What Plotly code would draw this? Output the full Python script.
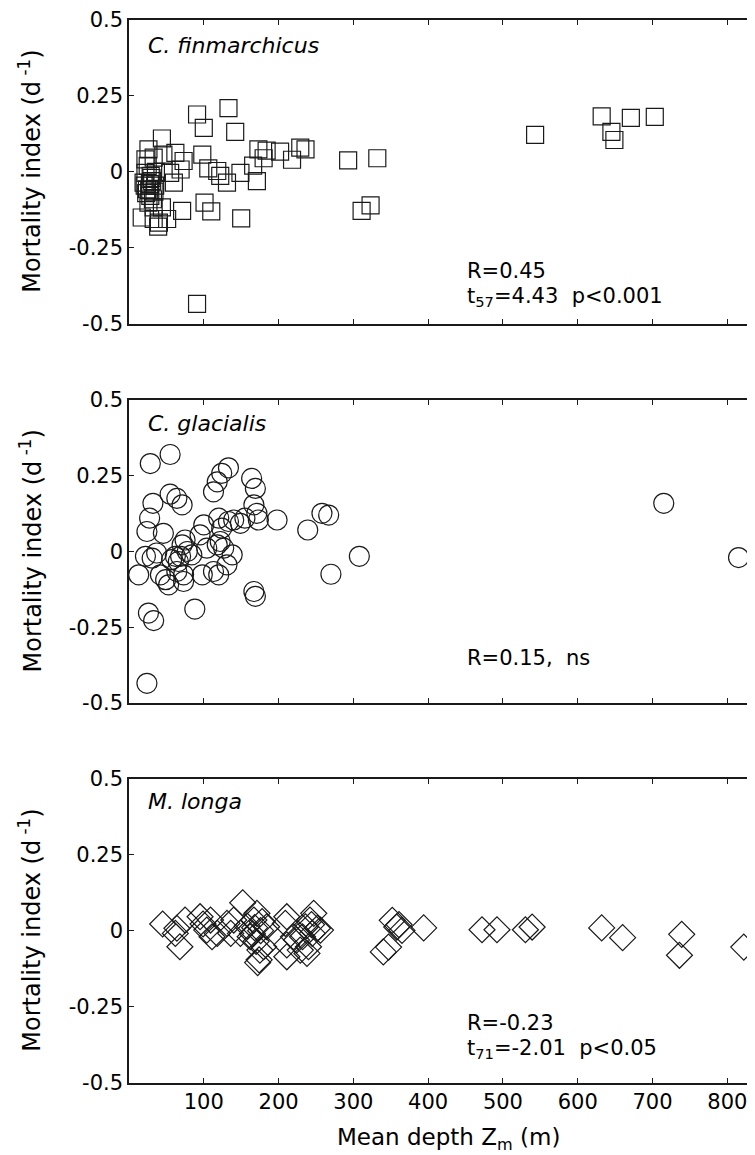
import plotly.graph_objects as go

# ---------------- data ----------------
cf_depth = [91, 100, 133, 142, 44, 26, 33, 22, 46, 62, 73, 69, 98, 106, 118, 122, 131, 149,
            166, 171, 173, 184, 180, 202, 218, 229, 236, 55, 60, 19.5, 24, 28.5, 22, 29, 35,
            26, 33, 44, 17, 33, 40, 51, 39, 71, 101, 110, 150, 91, 293, 332, 311, 323, 543,
            632, 645, 649, 671, 703, 30, 27, 32, 25, 36, 21, 31, 23, 34, 28]
cf_mort = [0.189, 0.145, 0.21, 0.132, 0.11, 0.074, 0.047, 0.041, 0.057, 0.063, 0.036, 0.008,
           0.057, 0.012, 0.003, -0.013, -0.035, -0.003, 0.021, -0.03, 0.074, 0.07, 0.045,
           0.067, 0.04, 0.08, 0.074, -0.003, -0.035, -0.035, -0.057, -0.079, -0.003, -0.013,
           -0.045, -0.101, -0.117, -0.117, -0.15, -0.155, -0.167, -0.155, -0.18, -0.128,
           -0.101, -0.13, -0.153, -0.434, 0.038, 0.045, -0.128, -0.11, 0.122, 0.183, 0.132,
           0.105, 0.178, 0.181, -0.02, -0.06, -0.09, 0.02, 0.0, -0.045, -0.03, -0.07,
           -0.065, -0.04]

cg_depth = [28.5, 55, 32, 27.6, 24, 55, 64, 71, 46, 22, 31, 37, 13, 42, 49, 53, 57, 62, 66,
            69, 64, 73, 71, 75, 84, 78, 73, 26, 33, 88, 24, 95, 100, 104, 98, 113, 118, 124,
            133, 120, 124, 122, 126.6, 118, 113, 120, 131, 138, 133, 140, 149, 155, 164, 169,
            167, 171, 173, 167, 169, 198, 239, 258, 267, 270, 308, 715, 815]
cg_mort = [0.29, 0.32, 0.159, 0.11, 0.066, 0.189, 0.175, 0.154, 0.06, -0.016, -0.022, -0.005,
           -0.077, -0.077, -0.093, -0.11, -0.027, -0.016, -0.033, -0.016, -0.066, -0.077,
           0.022, 0.038, -0.011, 0.0, -0.099, -0.203, -0.228, -0.19, -0.435, 0.055, 0.088,
           0.011, -0.077, 0.197, 0.23, 0.258, 0.276, 0.11, 0.077, 0.033, 0.011, 0.022, -0.066,
           -0.077, -0.044, -0.011, 0.099, 0.104, 0.093, 0.11, 0.241, 0.208, 0.154, 0.126,
           0.104, -0.132, -0.148, 0.104, 0.071, 0.126, 0.12, -0.075, -0.016, 0.159, -0.02]

ml_depth = [45, 64, 68, 75, 62, 95, 99, 109, 111, 104, 118, 131, 136, 140, 152, 149, 158, 167,
            171, 162, 165, 170, 176, 175, 174, 172, 180, 184, 211, 209, 211, 211, 220, 224,
            229, 236, 242, 247, 252, 256, 240, 245, 232, 238, 168, 178, 244,
            352, 358, 361, 365, 394, 340, 347, 472, 492, 530, 539, 632, 660, 739, 736, 822]
ml_mort = [0.022, 0.008, -0.053, 0.035, -0.009, 0.046, 0.022, 0.035, -0.02, 0.002, -0.009,
           0.024, -0.009, 0.035, 0.092, -0.009, 0.015, 0.035, 0.057, -0.02, -0.01, -0.035,
           0.0, -0.064, -0.096, -0.105, -0.053, 0.013, 0.046, 0.024, -0.047, -0.086, -0.02,
           -0.031, -0.064, 0.013, 0.035, 0.057, 0.008, 0.002, -0.053, -0.009, -0.02, -0.075,
           0.01, 0.03, 0.02,
           0.034, 0.012, 0.02, 0.001, 0.009, -0.07, -0.054, 0.003, 0.003, 0.003, 0.012, 0.009,
           -0.023, -0.012, -0.081, -0.054]

species = ["C. finmarchicus", "C. glacialis", "M. longa"]
y_tickvals = [-0.5, -0.25, 0, 0.25, 0.5]
y_ticktext = ["-0.5", "-0.25", "0", "0.25", "0.5"]
x_tickvals = [100, 200, 300, 400, 500, 600, 700, 800]
x_ticktext = ["100", "200", "300", "400", "500", "600", "700", "800"]

# ---------------- layout geometry ----------------
# The page body has an 8 px default margin; the figure is shrunk by that much so that
# its drawing lands where the reference has it inside the 755 x 1155 window.
OFF = 8
W, H = 755 - OFF, 1155 - OFF
ML, MR, MT, MB = 129 - OFF, 0, 9, 72
PH = H - MT - MB
PW = W - ML - MR
FONT = "DejaVu Sans, Verdana, sans-serif"
FS = 21
INK = "#1a1a1a"

# panel extents in window pixels (top, bottom)
panel_px = [(16.7, 321.7), (398, 702), (778, 1082.5)]


def yp(py):
    return (H - MB - (py - OFF)) / PH


def xp(px):
    return (px - OFF - ML) / PW


fig = go.Figure()

series = [(cf_depth, cf_mort, "square-open", 17),
          (cg_depth, cg_mort, "circle-open", 20),
          (ml_depth, ml_mort, "diamond-open", 20)]

for i, (xs, ys, sym, sz) in enumerate(series):
    n = "" if i == 0 else str(i + 1)
    fig.add_trace(go.Scatter(
        x=xs, y=ys, mode="markers", xaxis="x" + n, yaxis="y" + n,
        marker=dict(symbol=sym, size=sz, color=INK, line=dict(width=1.2, color=INK)),
        showlegend=False, hoverinfo="skip"))

    top, bot = panel_px[i]
    dom = [max(0, yp(bot)), min(1, yp(top))]
    xa = dict(domain=[0, 1], range=[0, 837], tickvals=x_tickvals, ticktext=x_ticktext,
              showticklabels=(i == 2), ticks="inside", ticklen=5, tickwidth=1,
              tickcolor=INK, showline=True, linecolor=INK, linewidth=1.5,
              mirror="ticks", showgrid=False, zeroline=False, anchor="y" + n,
              tickfont=dict(family=FONT, size=FS, color="black"), fixedrange=True)
    ya = dict(domain=dom, range=[-0.5, 0.5], tickvals=y_tickvals, ticktext=y_ticktext,
              ticks="inside", ticklen=5, tickwidth=1, tickcolor=INK, showline=True,
              linecolor=INK, linewidth=1.5, mirror=False, showgrid=False, zeroline=False,
              anchor="x" + n, tickfont=dict(family=FONT, size=FS, color="black"),
              fixedrange=True)
    fig.layout["xaxis" + n] = xa
    fig.layout["yaxis" + n] = ya

annotations = []
label_dy = [26, 24, 23]
for i, name in enumerate(species):
    top, bot = panel_px[i]
    annotations.append(dict(text="<i>" + name + "</i>", x=xp(146), y=yp(top + label_dy[i]),
                            xref="paper", yref="paper", xanchor="left", yanchor="middle",
                            showarrow=False, font=dict(family=FONT, size=22, color="black")))
    annotations.append(dict(text="Mortality index (d<sup> -1</sup>)", x=xp(30),
                            y=yp((top + bot) / 2), xref="paper", yref="paper",
                            xanchor="center", yanchor="middle", textangle=-90,
                            showarrow=False, font=dict(family=FONT, size=24, color="black")))

stats = [
    ("R=0.45", 269),
    ("t<sub>57</sub>=4.43\u00a0\u00a0p&lt;0.001", 295),
    ("R=0.15,\u00a0\u00a0ns", 657),
    ("R=-0.23", 1023),
    ("t<sub>71</sub>=-2.01\u00a0\u00a0p&lt;0.05", 1049),
]
for txt, py in stats:
    annotations.append(dict(text=txt, x=xp(465), y=yp(py), xref="paper", yref="paper",
                            xanchor="left", yanchor="middle", showarrow=False,
                            font=dict(family=FONT, size=FS, color="black")))

annotations.append(dict(text="Mean depth Z<sub>m</sub> (m)", x=xp(448), y=yp(1139),
                        xref="paper", yref="paper", xanchor="center", yanchor="middle",
                        showarrow=False, font=dict(family=FONT, size=23, color="black")))

fig.update_layout(
    width=W, height=H, autosize=False,
    margin=dict(l=ML, r=MR, t=MT, b=MB, pad=0),
    paper_bgcolor="white", plot_bgcolor="white",
    annotations=annotations,
    font=dict(family=FONT, size=FS, color="black"),
)

fig.write_html("out.html", config={"displayModeBar": False})
